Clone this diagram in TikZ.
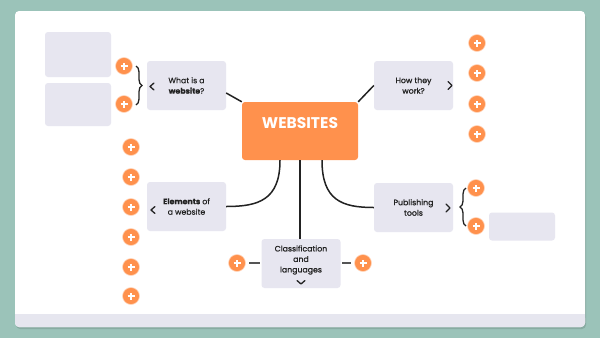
\documentclass[tikz,border=0pt]{standalone}
\usepackage{fontspec}
\setmainfont{Poppins}
\newfontfamily\labelfont[FakeBold=0.35]{Poppins}
\newfontfamily\midfont[FakeBold=1.3]{Poppins}
\usetikzlibrary{decorations.pathreplacing}

\definecolor{sagebg}{HTML}{9BC3B9}
\definecolor{cardstrip}{HTML}{E6E6EF}
\definecolor{topicfill}{HTML}{E7E6F0}
\definecolor{accent}{HTML}{FF914D}
\definecolor{inkdark}{HTML}{222222}
\definecolor{stubgray}{HTML}{555555}

\begin{document}
\begin{tikzpicture}[
    x=1pt, y=-1pt,
    topic/.style={fill=topicfill, rounded corners=3pt, minimum width=79pt, minimum height=49pt, inner sep=0pt, align=center, font=\labelfont\fontsize{7.8}{10.5}\selectfont, text=inkdark},
    midtopic/.style={topic, font=\midfont\fontsize{7.8}{10.5}\selectfont},
    topictext/.style={font=\midfont\fontsize{7.8}{10.5}\selectfont, text=inkdark, align=center},
    slot/.style={fill=topicfill, rounded corners=3pt, inner sep=0pt},
    hub/.style={fill=accent, rounded corners=3pt, minimum width=116pt, minimum height=58pt, inner sep=0pt},
    hubtext/.style={font=\fontsize{15.5}{17}\selectfont\bfseries, text=white},
    plusdot/.style={circle, fill=accent, draw=accent!35, line width=0.6pt, minimum size=17pt, inner sep=0pt,
      path picture={\draw[white, line width=1.2pt]
        ([xshift=-3.5pt]path picture bounding box.center) -- ([xshift=3.5pt]path picture bounding box.center)
        ([yshift=-3.5pt]path picture bounding box.center) -- ([yshift=3.5pt]path picture bounding box.center);}},
    link/.style={draw=inkdark, line width=1.5pt},
    stub/.style={draw=stubgray, line width=2pt},
    chev/.style={draw=inkdark, line width=1.3pt, line cap=round, line join=round},
    brace/.style={decorate, decoration={brace, amplitude=6pt}, draw=inkdark, line width=1.3pt},
  ]
    % background and card
    \fill[sagebg] (0,0) rectangle (600,338);
    \useasboundingbox (0,0) rectangle (600,338);
    \fill[black, opacity=0.12, rounded corners=4pt] (16,13) rectangle (586,329);
    \fill[white, rounded corners=4pt] (15,11) rectangle (585,327);
    \fill[cardstrip, rounded corners=4pt] (15,314) rectangle (585,327);
    \fill[cardstrip] (15,314) rectangle (585,320);

    % hub and topics
    \node[hub, label={[hubtext, yshift=8pt]center:WEBSITES}] (web) at (300,131) {};
    \node[topic] (what) at (186.5,85.5) {What is a\\\textbf{website}?};
    \node[midtopic] (how) at (413.5,85.5) {How they\\work?};
    \node[topic] (elem) at (186.5,206.5) {\textbf{Elements} of\\a website};
    \node[midtopic] (publ) at (413.5,207.5) {Publishing\\tools};
    \node[topic, label={[topictext, yshift=3.5pt]center:Classification\\and\\languages}] (class) at (301,263.5) {};

    % empty slots
    \node[slot, minimum width=66pt, minimum height=45pt] (slot-a) at (78,54.5) {};
    \node[slot, minimum width=66pt, minimum height=43pt] (slot-b) at (78,104.5) {};
    \node[slot, minimum width=66pt, minimum height=28pt] (slot-c) at (522,226.5) {};

    % connectors
    \draw[link] ([yshift=-7.5pt]what.east) -- (web.north west);
    \draw[link] (web.north east) -- (how.west);
    \draw[link] ([xshift=-20pt]web.south) .. controls +(0,40) and +(32,0) .. (elem.east);
    \draw[link] ([xshift=22pt]web.south) .. controls +(0,40) and +(-32,0) .. (publ.west);
    \draw[link] (web.south) -- (web.south |- class.north);

    % plus buttons
    \node[plusdot] (pw-1) at (124,66) {};
    \node[plusdot] (pw-2) at (124,104) {};
    \foreach \y [count=\i] in {147,177,207,237,267,296} { \node[plusdot] (pe-\i) at (131,\y) {}; }
    \foreach \y [count=\i] in {43,73,104,134} { \node[plusdot] (ph-\i) at (477,\y) {}; }
    \node[plusdot] (pp-1) at (476,188) {};
    \node[plusdot] (pp-2) at (476,226) {};
    \node[plusdot] (pc-1) at (237,263) {};
    \node[plusdot] (pc-2) at (363,263) {};
    \draw[stub, shorten <=3.5pt, shorten >=1pt] (pc-1.east) -- (pc-1.east -| class.west);
    \draw[stub, shorten <=3.5pt, shorten >=1pt] (pc-2.west) -- (pc-2.west -| class.east);

    % braces
    \draw[brace] (136,66) -- (136,105);
    \draw[brace] (466,226) -- (466,188);

    % chevrons
    \draw[chev] (154,83) -- (150,86.5) -- (154,90);
    \draw[chev] (448,81.5) -- (452,85.5) -- (448,89.5);
    \draw[chev] (155,206.5) -- (151,210) -- (155,213.5);
    \draw[chev] (446,204) -- (450,208) -- (446,212);
    \draw[chev] (297,280.5) -- (301,284) -- (305,280.5);
  \end{tikzpicture}
\end{document}
